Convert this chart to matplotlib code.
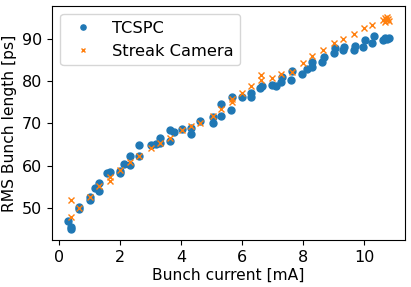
import numpy as np
import matplotlib.pyplot as plt

# TCSPC measurements
tcspc_current = [0.30, 0.39, 0.39, 0.66, 0.66, 1.02, 1.02, 1.18, 1.31, 1.31,
                 1.56, 1.67, 1.98, 1.98, 2.13, 2.33, 2.33, 2.63, 2.63, 3.02,
                 3.18, 3.31, 3.31, 3.62, 3.62, 3.75, 4.02, 4.32, 4.32, 4.62,
                 5.03, 5.03, 5.31, 5.31, 5.63, 5.66, 5.99, 6.28, 6.28, 6.57,
                 6.64, 6.97, 7.11, 7.27, 7.30, 7.60, 7.63, 7.96, 8.12, 8.29,
                 8.29, 8.61, 8.67, 9.00, 9.05, 9.30, 9.32, 9.65, 9.70, 9.96,
                 10.03, 10.25, 10.30, 10.61, 10.69, 10.75, 10.80]
tcspc_length = [46.9, 45.5, 44.9, 50.2, 49.7, 51.8, 52.6, 54.7, 53.9, 55.8,
                58.3, 58.4, 58.8, 58.3, 60.4, 62.2, 60.2, 64.9, 62.2, 64.8,
                65.0, 66.6, 65.4, 68.5, 65.8, 67.9, 68.6, 67.5, 68.8, 70.5,
                71.6, 70.1, 74.7, 71.7, 73.1, 76.3, 76.3, 77.1, 76.3, 78.5,
                78.8, 79.2, 78.8, 79.8, 80.9, 80.2, 82.5, 81.8, 83.0, 83.4,
                84.6, 84.6, 85.8, 86.6, 87.8, 87.4, 88.2, 87.4, 88.3, 88.2,
                89.8, 89.0, 90.7, 89.8, 90.2, 90.0, 90.2]

# Streak camera measurements
streak_current = [0.39, 0.39, 0.66, 1.02, 1.31, 1.67, 1.67, 1.98, 2.33, 2.63,
                  3.02, 3.31, 3.62, 4.02, 4.32, 4.62, 5.03, 5.31, 5.66, 5.66,
                  5.99, 6.28, 6.61, 6.61, 6.97, 7.27, 7.63, 7.99, 8.29, 8.64,
                  9.00, 9.30, 9.67, 9.98, 10.25, 10.61, 10.66, 10.69, 10.72,
                  10.74, 10.78, 10.80]
streak_length = [51.8, 47.9, 49.9, 52.6, 55.1, 57.4, 56.4, 59.0, 60.8, 62.2,
                 64.2, 65.4, 66.6, 68.4, 69.4, 70.1, 71.8, 73.3, 75.9, 75.1,
                 77.2, 78.9, 81.5, 80.3, 80.8, 81.6, 82.2, 84.4, 86.0, 87.4,
                 89.0, 89.9, 91.3, 92.5, 93.3, 94.5, 94.0, 94.9, 94.6, 95.3,
                 94.8, 94.2]

fig = plt.figure(figsize=(4.11, 2.87), dpi=100)
ax = fig.add_axes([0.127, 0.164, 0.858, 0.815])

ax.plot(tcspc_current, tcspc_length, 'o', markersize=5, label='TCSPC')
ax.plot(streak_current, streak_length, 'x', markersize=4.5, label='Streak Camera')

ax.set_xlabel('Bunch current [mA]', fontsize=11.2, labelpad=2)
ax.set_ylabel('RMS Bunch length [ps]', fontsize=11.2)
ax.tick_params(labelsize=11.5)
ax.legend(loc='upper left', fontsize=11.7, markerscale=0.75)

fig.savefig('out.png', dpi=100)
